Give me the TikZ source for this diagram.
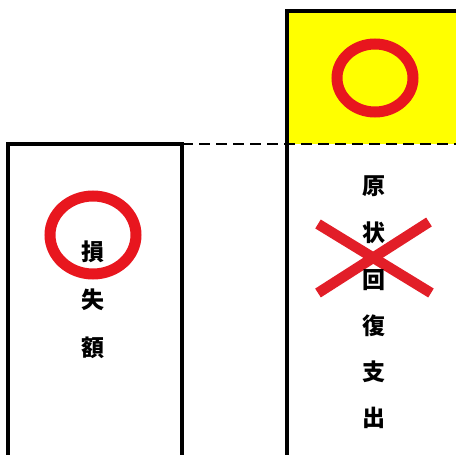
\documentclass[tikz,border=0pt]{standalone}
\usepackage{fontspec}
\newfontfamily\jp{Noto Sans CJK JP}
\definecolor{mkred}{RGB}{232,22,30}
\definecolor{xred}{RGB}{226,30,40}
\definecolor{hiyel}{RGB}{255,255,0}
\begin{document}
\begin{tikzpicture}[x=1pt,y=-1pt,
  frame/.style={line width=3.2pt,black},
  dashline/.style={line width=2.6pt,black,dash pattern=on 11pt off 6pt},
  ring/.style={draw=mkred,line width=11pt},
  cross/.style={xred,line width=10.5pt},
  jch/.style={font=\jp\bfseries\fontsize{23pt}{23pt}\selectfont,inner sep=0pt}]
\useasboundingbox (0,0) rectangle (456,455);
% yellow box
\fill[hiyel] (287,11) rectangle (460,144);
\draw[frame] (460,11) -- (287,11) -- (287,458);
% left box
\draw[frame] (8,458) -- (8,144) -- (182,144) -- (182,458);
\draw[dashline] (182,144) -- (460,144);
% circles
\draw[ring] (375,78) ellipse (38 and 34);
\draw[ring] (93,235) ellipse (43 and 39);
% texts
\node[jch] (s1) at (93,252) {損};
\node[jch] (s2) at (93,300) {失};
\node[jch] (s3) at (93,348) {額};
% X
\coordinate (xa) at (318,224);
\coordinate (xb) at (431,293);
\coordinate (xc) at (429,222);
\coordinate (xd) at (318,293);
\draw[cross] (xa) -- (xb);
\draw[cross] (xc) -- (xd);
\node[jch] (g1) at (374,186) {原};
\node[jch] (g2) at (374,233) {状};
\node[jch] (g3) at (374,280) {回};
\node[jch] (g4) at (374,326) {復};
\node[jch] (g5) at (374,372) {支};
\node[jch] (g6) at (374,418) {出};
\end{tikzpicture}
\end{document}
